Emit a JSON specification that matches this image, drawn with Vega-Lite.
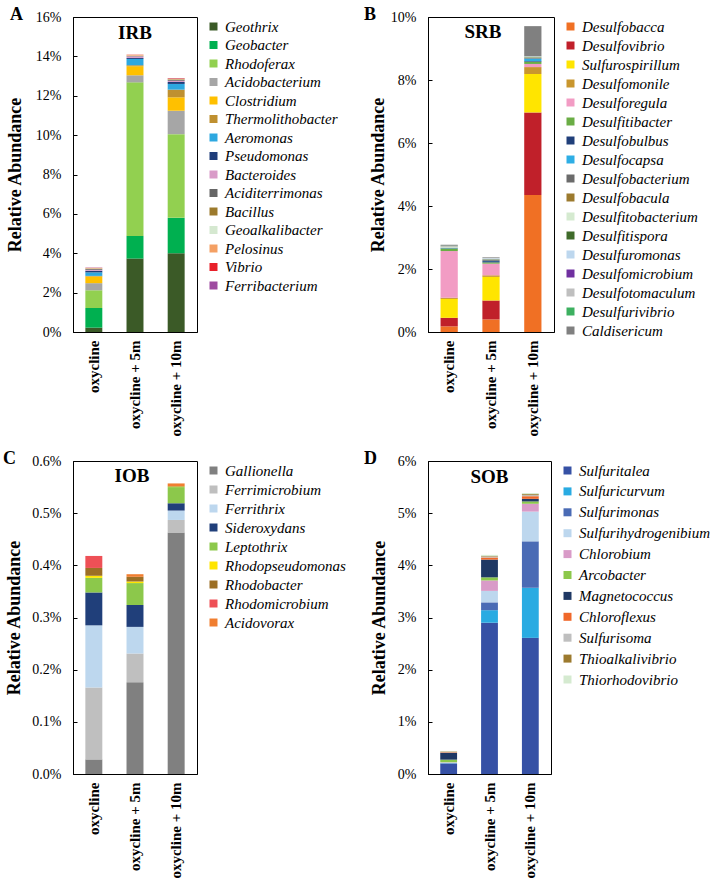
{
  "$schema": "https://vega.github.io/schema/vega-lite/v6.json",
  "background": "white",
  "padding": {"left": 2, "top": 5, "right": 5, "bottom": 5},
  "datasets": {
    "irb": [
      {"site": "oxycline", "genus": "Geothrix", "value": 0.22},
      {"site": "oxycline", "genus": "Geobacter", "value": 1.0},
      {"site": "oxycline", "genus": "Rhodoferax", "value": 0.9},
      {"site": "oxycline", "genus": "Acidobacterium", "value": 0.36},
      {"site": "oxycline", "genus": "Clostridium", "value": 0.34},
      {"site": "oxycline", "genus": "Thermolithobacter", "value": 0.03},
      {"site": "oxycline", "genus": "Aeromonas", "value": 0.18},
      {"site": "oxycline", "genus": "Pseudomonas", "value": 0.08},
      {"site": "oxycline", "genus": "Bacteroides", "value": 0.05},
      {"site": "oxycline", "genus": "Aciditerrimonas", "value": 0.04},
      {"site": "oxycline", "genus": "Bacillus", "value": 0.02},
      {"site": "oxycline", "genus": "Geoalkalibacter", "value": 0.01},
      {"site": "oxycline", "genus": "Pelosinus", "value": 0.02},
      {"site": "oxycline", "genus": "Vibrio", "value": 0.01},
      {"site": "oxycline", "genus": "Ferribacterium", "value": 0.01},
      {"site": "oxycline + 5m", "genus": "Geothrix", "value": 3.73},
      {"site": "oxycline + 5m", "genus": "Geobacter", "value": 1.15},
      {"site": "oxycline + 5m", "genus": "Rhodoferax", "value": 7.8},
      {"site": "oxycline + 5m", "genus": "Acidobacterium", "value": 0.36},
      {"site": "oxycline + 5m", "genus": "Clostridium", "value": 0.46},
      {"site": "oxycline + 5m", "genus": "Thermolithobacter", "value": 0.05},
      {"site": "oxycline + 5m", "genus": "Aeromonas", "value": 0.32},
      {"site": "oxycline + 5m", "genus": "Pseudomonas", "value": 0.05},
      {"site": "oxycline + 5m", "genus": "Bacteroides", "value": 0.08},
      {"site": "oxycline + 5m", "genus": "Aciditerrimonas", "value": 0.02},
      {"site": "oxycline + 5m", "genus": "Bacillus", "value": 0.01},
      {"site": "oxycline + 5m", "genus": "Geoalkalibacter", "value": 0.01},
      {"site": "oxycline + 5m", "genus": "Pelosinus", "value": 0.04},
      {"site": "oxycline + 5m", "genus": "Vibrio", "value": 0.01},
      {"site": "oxycline + 10m", "genus": "Geothrix", "value": 4.0},
      {"site": "oxycline + 10m", "genus": "Geobacter", "value": 1.8},
      {"site": "oxycline + 10m", "genus": "Rhodoferax", "value": 4.25},
      {"site": "oxycline + 10m", "genus": "Acidobacterium", "value": 1.19},
      {"site": "oxycline + 10m", "genus": "Clostridium", "value": 0.68},
      {"site": "oxycline + 10m", "genus": "Thermolithobacter", "value": 0.39},
      {"site": "oxycline + 10m", "genus": "Aeromonas", "value": 0.29},
      {"site": "oxycline + 10m", "genus": "Pseudomonas", "value": 0.1},
      {"site": "oxycline + 10m", "genus": "Bacteroides", "value": 0.06},
      {"site": "oxycline + 10m", "genus": "Aciditerrimonas", "value": 0.04},
      {"site": "oxycline + 10m", "genus": "Bacillus", "value": 0.03},
      {"site": "oxycline + 10m", "genus": "Geoalkalibacter", "value": 0.01},
      {"site": "oxycline + 10m", "genus": "Pelosinus", "value": 0.03},
      {"site": "oxycline + 10m", "genus": "Vibrio", "value": 0.02},
      {"site": "oxycline + 10m", "genus": "Ferribacterium", "value": 0.01}
    ],
    "srb": [
      {"site": "oxycline", "genus": "Desulfobacca", "value": 0.18},
      {"site": "oxycline", "genus": "Desulfovibrio", "value": 0.27},
      {"site": "oxycline", "genus": "Sulfurospirillum", "value": 0.6},
      {"site": "oxycline", "genus": "Desulfomonile", "value": 0.04},
      {"site": "oxycline", "genus": "Desulforegula", "value": 1.48},
      {"site": "oxycline", "genus": "Desulfitibacter", "value": 0.08},
      {"site": "oxycline", "genus": "Desulfobulbus", "value": 0.01},
      {"site": "oxycline", "genus": "Desulfocapsa", "value": 0.01},
      {"site": "oxycline", "genus": "Desulfobacterium", "value": 0.01},
      {"site": "oxycline", "genus": "Desulfitobacterium", "value": 0.02},
      {"site": "oxycline", "genus": "Desulfitispora", "value": 0.01},
      {"site": "oxycline", "genus": "Desulfotomaculum", "value": 0.02},
      {"site": "oxycline", "genus": "Desulfurivibrio", "value": 0.01},
      {"site": "oxycline", "genus": "Caldisericum", "value": 0.03},
      {"site": "oxycline + 5m", "genus": "Desulfobacca", "value": 0.4},
      {"site": "oxycline + 5m", "genus": "Desulfovibrio", "value": 0.6},
      {"site": "oxycline + 5m", "genus": "Sulfurospirillum", "value": 0.75},
      {"site": "oxycline + 5m", "genus": "Desulfomonile", "value": 0.05},
      {"site": "oxycline + 5m", "genus": "Desulforegula", "value": 0.37},
      {"site": "oxycline + 5m", "genus": "Desulfitibacter", "value": 0.04},
      {"site": "oxycline + 5m", "genus": "Desulfobulbus", "value": 0.04},
      {"site": "oxycline + 5m", "genus": "Desulfocapsa", "value": 0.01},
      {"site": "oxycline + 5m", "genus": "Desulfobacterium", "value": 0.04},
      {"site": "oxycline + 5m", "genus": "Desulfitobacterium", "value": 0.01},
      {"site": "oxycline + 5m", "genus": "Desulfitispora", "value": 0.01},
      {"site": "oxycline + 5m", "genus": "Desulfuromonas", "value": 0.02},
      {"site": "oxycline + 5m", "genus": "Desulfotomaculum", "value": 0.01},
      {"site": "oxycline + 5m", "genus": "Caldisericum", "value": 0.02},
      {"site": "oxycline + 10m", "genus": "Desulfobacca", "value": 4.35},
      {"site": "oxycline + 10m", "genus": "Desulfovibrio", "value": 2.62},
      {"site": "oxycline + 10m", "genus": "Sulfurospirillum", "value": 1.22},
      {"site": "oxycline + 10m", "genus": "Desulfomonile", "value": 0.22},
      {"site": "oxycline + 10m", "genus": "Desulforegula", "value": 0.1},
      {"site": "oxycline + 10m", "genus": "Desulfitibacter", "value": 0.07},
      {"site": "oxycline + 10m", "genus": "Desulfobulbus", "value": 0.02},
      {"site": "oxycline + 10m", "genus": "Desulfocapsa", "value": 0.08},
      {"site": "oxycline + 10m", "genus": "Desulfobacterium", "value": 0.02},
      {"site": "oxycline + 10m", "genus": "Desulfobacula", "value": 0.01},
      {"site": "oxycline + 10m", "genus": "Desulfitobacterium", "value": 0.01},
      {"site": "oxycline + 10m", "genus": "Desulfitispora", "value": 0.02},
      {"site": "oxycline + 10m", "genus": "Desulfuromonas", "value": 0.01},
      {"site": "oxycline + 10m", "genus": "Desulfotomaculum", "value": 0.01},
      {"site": "oxycline + 10m", "genus": "Caldisericum", "value": 0.95}
    ],
    "iob": [
      {"site": "oxycline", "genus": "Gallionella", "value": 0.028},
      {"site": "oxycline", "genus": "Ferrimicrobium", "value": 0.138},
      {"site": "oxycline", "genus": "Ferrithrix", "value": 0.119},
      {"site": "oxycline", "genus": "Sideroxydans", "value": 0.063},
      {"site": "oxycline", "genus": "Leptothrix", "value": 0.028},
      {"site": "oxycline", "genus": "Rhodopseudomonas", "value": 0.004},
      {"site": "oxycline", "genus": "Rhodobacter", "value": 0.015},
      {"site": "oxycline", "genus": "Rhodomicrobium", "value": 0.023},
      {"site": "oxycline + 5m", "genus": "Gallionella", "value": 0.176},
      {"site": "oxycline + 5m", "genus": "Ferrimicrobium", "value": 0.055},
      {"site": "oxycline + 5m", "genus": "Ferrithrix", "value": 0.051},
      {"site": "oxycline + 5m", "genus": "Sideroxydans", "value": 0.042},
      {"site": "oxycline + 5m", "genus": "Leptothrix", "value": 0.042},
      {"site": "oxycline + 5m", "genus": "Rhodopseudomonas", "value": 0.003},
      {"site": "oxycline + 5m", "genus": "Rhodobacter", "value": 0.009},
      {"site": "oxycline + 5m", "genus": "Acidovorax", "value": 0.005},
      {"site": "oxycline + 10m", "genus": "Gallionella", "value": 0.463},
      {"site": "oxycline + 10m", "genus": "Ferrimicrobium", "value": 0.024},
      {"site": "oxycline + 10m", "genus": "Ferrithrix", "value": 0.018},
      {"site": "oxycline + 10m", "genus": "Sideroxydans", "value": 0.014},
      {"site": "oxycline + 10m", "genus": "Leptothrix", "value": 0.031},
      {"site": "oxycline + 10m", "genus": "Rhodopseudomonas", "value": 0.001},
      {"site": "oxycline + 10m", "genus": "Rhodobacter", "value": 0.001},
      {"site": "oxycline + 10m", "genus": "Acidovorax", "value": 0.005}
    ],
    "sob": [
      {"site": "oxycline", "genus": "Sulfuritalea", "value": 0.2},
      {"site": "oxycline", "genus": "Sulfuricurvum", "value": 0.005},
      {"site": "oxycline", "genus": "Sulfurimonas", "value": 0.005},
      {"site": "oxycline", "genus": "Sulfurihydrogenibium", "value": 0.01},
      {"site": "oxycline", "genus": "Chlorobium", "value": 0.005},
      {"site": "oxycline", "genus": "Arcobacter", "value": 0.05},
      {"site": "oxycline", "genus": "Magnetococcus", "value": 0.13},
      {"site": "oxycline", "genus": "Chloroflexus", "value": 0.01},
      {"site": "oxycline", "genus": "Sulfurisoma", "value": 0.005},
      {"site": "oxycline", "genus": "Thioalkalivibrio", "value": 0.01},
      {"site": "oxycline", "genus": "Thiorhodovibrio", "value": 0.005},
      {"site": "oxycline + 5m", "genus": "Sulfuritalea", "value": 2.9},
      {"site": "oxycline + 5m", "genus": "Sulfuricurvum", "value": 0.24},
      {"site": "oxycline + 5m", "genus": "Sulfurimonas", "value": 0.15},
      {"site": "oxycline + 5m", "genus": "Sulfurihydrogenibium", "value": 0.22},
      {"site": "oxycline + 5m", "genus": "Chlorobium", "value": 0.2},
      {"site": "oxycline + 5m", "genus": "Arcobacter", "value": 0.06},
      {"site": "oxycline + 5m", "genus": "Magnetococcus", "value": 0.34},
      {"site": "oxycline + 5m", "genus": "Chloroflexus", "value": 0.04},
      {"site": "oxycline + 5m", "genus": "Sulfurisoma", "value": 0.02},
      {"site": "oxycline + 5m", "genus": "Thioalkalivibrio", "value": 0.01},
      {"site": "oxycline + 5m", "genus": "Thiorhodovibrio", "value": 0.02},
      {"site": "oxycline + 10m", "genus": "Sulfuritalea", "value": 2.61},
      {"site": "oxycline + 10m", "genus": "Sulfuricurvum", "value": 0.96},
      {"site": "oxycline + 10m", "genus": "Sulfurimonas", "value": 0.89},
      {"site": "oxycline + 10m", "genus": "Sulfurihydrogenibium", "value": 0.57},
      {"site": "oxycline + 10m", "genus": "Chlorobium", "value": 0.15},
      {"site": "oxycline + 10m", "genus": "Arcobacter", "value": 0.045},
      {"site": "oxycline + 10m", "genus": "Magnetococcus", "value": 0.05},
      {"site": "oxycline + 10m", "genus": "Chloroflexus", "value": 0.05},
      {"site": "oxycline + 10m", "genus": "Sulfurisoma", "value": 0.02},
      {"site": "oxycline + 10m", "genus": "Thioalkalivibrio", "value": 0.02},
      {"site": "oxycline + 10m", "genus": "Thiorhodovibrio", "value": 0.02}
    ]
  },
  "concat": [
    {
      "width": 124, "height": 315,
      "title": {"text": "A", "dx": 4, "offset": -14},
      "layer": [
        {
          "data": {"name": "irb"},
          "transform": [{"window": [{"op": "row_number", "as": "k"}], "groupby": ["site"]}],
          "mark": "bar",
          "encoding": {
            "x": {"field": "site", "type": "nominal", "scale": {"domain": ["oxycline", "oxycline + 5m", "oxycline + 10m"], "paddingInner": 0.588, "paddingOuter": 0.3}},
            "y": {"field": "value", "type": "quantitative", "stack": "zero", "scale": {"domain": [0, 16], "nice": false},
                  "axis": {"title": "Relative Abundance", "values": [0, 2, 4, 6, 8, 10, 12, 14, 16], "tickCount": 30, "labelExpr": "format(datum.value, '.0f') + '%'", "titleX": -49}},
            "color": {"field": "genus", "type": "nominal",
                      "scale": {"domain": ["Geothrix", "Geobacter", "Rhodoferax", "Acidobacterium", "Clostridium", "Thermolithobacter", "Aeromonas", "Pseudomonas", "Bacteroides", "Aciditerrimonas", "Bacillus", "Geoalkalibacter", "Pelosinus", "Vibrio", "Ferribacterium"],
                                "range": ["#3B5A27", "#00B050", "#92D050", "#A6A6A6", "#FFC000", "#BF9030", "#2EA8E0", "#1F3D7A", "#D99BC8", "#666666", "#9C7A2C", "#D5E8D0", "#F4A064", "#E8202A", "#9E4BA0"]},
                      "legend": {"title": null, "rowPadding": 2.5}},
            "order": {"field": "k", "type": "quantitative"}
          }
        },
        {
          "data": {"values": [{}]},
          "mark": {"type": "text", "fontSize": 19, "fontWeight": "bold", "font": "Liberation Serif", "baseline": "middle", "color": "black"},
          "encoding": {"x": {"datum": "oxycline + 5m", "type": "nominal"}, "y": {"datum": 15.18, "type": "quantitative"}, "text": {"value": "IRB"}}
        }
      ]
    },
    {
      "width": 126, "height": 315,
      "title": {"text": "B", "dx": -5, "offset": -14},
      "layer": [
        {
          "data": {"name": "srb"},
          "transform": [{"window": [{"op": "row_number", "as": "k"}], "groupby": ["site"]}],
          "mark": "bar",
          "encoding": {
            "x": {"field": "site", "type": "nominal", "scale": {"domain": ["oxycline", "oxycline + 5m", "oxycline + 10m"], "paddingInner": 0.588, "paddingOuter": 0.3}},
            "y": {"field": "value", "type": "quantitative", "stack": "zero", "scale": {"domain": [0, 10], "nice": false},
                  "axis": {"title": "Relative Abundance", "values": [0, 2, 4, 6, 8, 10], "tickCount": 30, "labelExpr": "format(datum.value, '.0f') + '%'", "titleX": -41}},
            "color": {"field": "genus", "type": "nominal",
                      "scale": {"domain": ["Desulfobacca", "Desulfovibrio", "Sulfurospirillum", "Desulfomonile", "Desulforegula", "Desulfitibacter", "Desulfobulbus", "Desulfocapsa", "Desulfobacterium", "Desulfobacula", "Desulfitobacterium", "Desulfitispora", "Desulfuromonas", "Desulfomicrobium", "Desulfotomaculum", "Desulfurivibrio", "Caldisericum"],
                                "range": ["#F07024", "#C0202A", "#FFE500", "#C9962E", "#F29CC4", "#6AAD45", "#203F7A", "#2EAEE5", "#6B6B6B", "#9C7A2E", "#D5EAD0", "#3F6B2A", "#BDD7EE", "#7030A0", "#BFBFBF", "#3DB060", "#808080"]},
                      "legend": {"title": null, "rowPadding": 3}},
            "order": {"field": "k", "type": "quantitative"}
          }
        },
        {
          "data": {"values": [{}]},
          "mark": {"type": "text", "fontSize": 19, "fontWeight": "bold", "font": "Liberation Serif", "baseline": "middle", "color": "black", "dx": -8},
          "encoding": {"x": {"datum": "oxycline + 5m", "type": "nominal"}, "y": {"datum": 9.51, "type": "quantitative"}, "text": {"value": "SRB"}}
        }
      ]
    },
    {
      "width": 124, "height": 313,
      "title": {"text": "C", "dx": -2, "offset": -14},
      "layer": [
        {
          "data": {"name": "iob"},
          "transform": [{"window": [{"op": "row_number", "as": "k"}], "groupby": ["site"]}],
          "mark": "bar",
          "encoding": {
            "x": {"field": "site", "type": "nominal", "scale": {"domain": ["oxycline", "oxycline + 5m", "oxycline + 10m"], "paddingInner": 0.588, "paddingOuter": 0.3}},
            "y": {"field": "value", "type": "quantitative", "stack": "zero", "scale": {"domain": [0, 0.6], "nice": false},
                  "axis": {"title": "Relative Abundance", "values": [0, 0.1, 0.2, 0.3, 0.4, 0.5, 0.6], "tickCount": 30, "labelExpr": "format(datum.value, '.1f') + '%'", "titleX": -50}},
            "color": {"field": "genus", "type": "nominal",
                      "scale": {"domain": ["Gallionella", "Ferrimicrobium", "Ferrithrix", "Sideroxydans", "Leptothrix", "Rhodopseudomonas", "Rhodobacter", "Rhodomicrobium", "Acidovorax"],
                                "range": ["#808080", "#BFBFBF", "#BDD7EE", "#203F7A", "#8CC84B", "#FFE500", "#9C6F25", "#EE5056", "#F07E30"]},
                      "legend": {"title": null, "rowPadding": 3}},
            "order": {"field": "k", "type": "quantitative"}
          }
        },
        {
          "data": {"values": [{}]},
          "mark": {"type": "text", "fontSize": 19, "fontWeight": "bold", "font": "Liberation Serif", "baseline": "middle", "color": "black", "dx": -3},
          "encoding": {"x": {"datum": "oxycline + 5m", "type": "nominal"}, "y": {"datum": 0.571, "type": "quantitative"}, "text": {"value": "IOB"}}
        }
      ]
    },
    {
      "width": 123, "height": 313,
      "title": {"text": "D", "dx": -6, "offset": -14},
      "layer": [
        {
          "data": {"name": "sob"},
          "transform": [{"window": [{"op": "row_number", "as": "k"}], "groupby": ["site"]}],
          "mark": "bar",
          "encoding": {
            "x": {"field": "site", "type": "nominal", "scale": {"domain": ["oxycline", "oxycline + 5m", "oxycline + 10m"], "paddingInner": 0.588, "paddingOuter": 0.3}},
            "y": {"field": "value", "type": "quantitative", "stack": "zero", "scale": {"domain": [0, 6], "nice": false},
                  "axis": {"title": "Relative Abundance", "values": [0, 1, 2, 3, 4, 5, 6], "tickCount": 30, "labelExpr": "format(datum.value, '.0f') + '%'", "titleX": -40}},
            "color": {"field": "genus", "type": "nominal",
                      "scale": {"domain": ["Sulfuritalea", "Sulfuricurvum", "Sulfurimonas", "Sulfurihydrogenibium", "Chlorobium", "Arcobacter", "Magnetococcus", "Chloroflexus", "Sulfurisoma", "Thioalkalivibrio", "Thiorhodovibrio"],
                                "range": ["#3651A5", "#29ABE2", "#4A6BB5", "#BDD7EE", "#D99BC8", "#8CC84B", "#1F3864", "#F0682A", "#BFBFBF", "#9C7A2E", "#D5EAD0"]},
                      "legend": {"title": null, "rowPadding": 4.9}},
            "order": {"field": "k", "type": "quantitative"}
          }
        },
        {
          "data": {"values": [{}]},
          "mark": {"type": "text", "fontSize": 19, "fontWeight": "bold", "font": "Liberation Serif", "baseline": "middle", "color": "black"},
          "encoding": {"x": {"datum": "oxycline + 5m", "type": "nominal"}, "y": {"datum": 5.69, "type": "quantitative"}, "text": {"value": "SOB"}}
        }
      ]
    }
  ],
  "columns": 2,
  "spacing": {"row": 129, "column": 231},
  "bounds": "flush",
  "resolve": {"scale": {"color": "independent", "x": "independent", "y": "independent"}, "legend": {"color": "independent"}},
  "config": {
    "font": "Liberation Serif",
    "view": {"stroke": "black", "strokeWidth": 1},
    "axis": {"labelFont": "Liberation Serif", "labelColor": "black", "titleFont": "Liberation Serif", "titleColor": "black", "domainColor": "black", "tickColor": "black", "grid": false},
    "axisY": {"labelFontSize": 14, "tickSize": -4, "labelPadding": 16, "titleFontSize": 18, "titleFontWeight": "bold", "labelOverlap": false},
    "axisX": {"labelFontSize": 15, "labelFontWeight": "bold", "labelAngle": -90, "ticks": false, "labelPadding": 8, "title": null, "labelOverlap": false},
    "legend": {"labelFont": "Liberation Serif", "labelFontSize": 15, "labelFontStyle": "italic", "labelColor": "black", "symbolType": "square", "symbolSize": 64, "symbolStrokeWidth": 0, "padding": 2, "offset": 7, "labelLimit": 300, "labelOffset": 4},
    "title": {"font": "Liberation Serif", "fontSize": 18, "fontWeight": "bold", "color": "black", "anchor": "start", "frame": "bounds"}
  }
}
